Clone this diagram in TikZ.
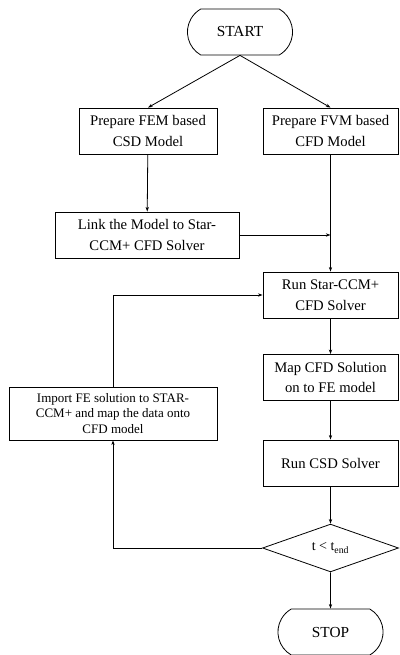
\documentclass[tikz,border=0pt]{standalone}
\usepackage{fontspec}
\setmainfont{Liberation Serif}
\usepackage{tikz}
\usetikzlibrary{shapes.geometric,shapes.misc,arrows.meta}

\begin{document}
\begin{tikzpicture}[x=0.75pt,y=-0.75pt,
every node/.style={font=\fontsize{11}{15.5}\selectfont},
main node/.style={draw,rectangle,align=center,line width=0.6pt,minimum height=34.5pt,inner sep=2pt},
end node/.style={draw,rounded rectangle,rounded rectangle arc length=120,line width=0.6pt,minimum width=85.5pt,minimum height=34.5pt,font=\fontsize{11.5}{14}\selectfont},
test node/.style={draw,diamond,line width=0.6pt,minimum width=102pt,minimum height=34.5pt,inner sep=0pt,font=\fontsize{10.5}{12}\selectfont},
flow/.style={line width=0.6pt,-{Stealth[length=3.5pt,width=2.5pt]}}]
\useasboundingbox (0,0) rectangle (399,655);
\node[end node] (start) at (240,32) {START};
\node[main node,minimum width=103.5pt] (fem) at (148,131) {Prepare FEM based\\CSD Model};
\node[main node,minimum width=101.25pt] (fvm) at (330.5,131) {Prepare FVM based\\CFD Model};
\node[main node,minimum width=138pt] (link) at (147,235) {Link the Model to Star-\\CCM+ CFD Solver};
\node[main node,minimum width=101.25pt] (run) at (330.5,295) {Run Star-CCM+\\CFD Solver};
\node[main node,minimum width=101.25pt] (map) at (330.5,377.5) {Map CFD Solution\\on to FE model};
\node[main node,minimum width=156pt,minimum height=39.75pt,font=\fontsize{9.75}{11.75}\selectfont] (import) at (113,413.5) {Import FE solution to STAR-\\CCM+ and map the data onto\\CFD model};
\node[main node,minimum width=101.25pt] (csd) at (330.5,463) {Run CSD Solver};
\node[test node] (check) at (330.5,548) {t < t\textsubscript{end}};
\node[end node] (stop) at (330.5,632) {STOP};
\draw[flow] (start.south) -- (fem.north);
\draw[flow] (start.south) -- (fvm.north);
\draw[flow] (fem) -- (link);
\draw[flow] (fvm) -- (run);
\draw[flow] (link.east) -- (link.east -| run);
\draw[flow] (run) -- (map);
\draw[flow] (map) -- (csd);
\draw[flow] (csd) -- (check);
\draw[flow] (check) -- (stop);
\draw[flow] (check.west) -| (import.south);
\draw[flow] (import.north) |- (run.west);
\end{tikzpicture}
\end{document}
